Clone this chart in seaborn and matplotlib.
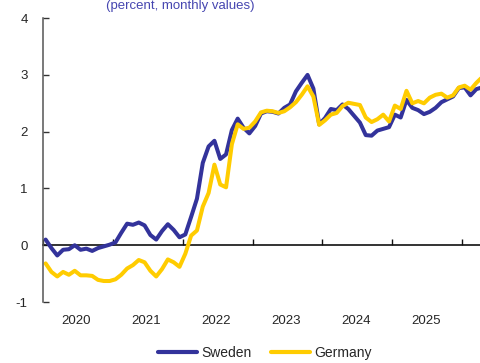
import numpy as np
import pandas as pd
import matplotlib
matplotlib.use("Agg")
import matplotlib.pyplot as plt
import seaborn as sns

# Monthly inflation expectations, Jan 2020 onwards (month index 0 = Jan 2020)
sweden = [0.10, -0.05, -0.18, -0.08, -0.07, 0.00, -0.08, -0.06, -0.10, -0.05, -0.02, 0.01,
          0.05, 0.22, 0.38, 0.36, 0.40, 0.35, 0.18, 0.10, 0.25, 0.37, 0.27, 0.14,
          0.19, 0.50, 0.82, 1.45, 1.74, 1.84, 1.52, 1.60, 2.03, 2.23, 2.07, 1.97,
          2.10, 2.32, 2.36, 2.35, 2.32, 2.42, 2.48, 2.71, 2.86, 3.00, 2.76, 2.13,
          2.24, 2.40, 2.38, 2.48, 2.40, 2.28, 2.16, 1.94, 1.93, 2.02, 2.05, 2.08,
          2.30, 2.25, 2.56, 2.42, 2.38, 2.31, 2.35, 2.42, 2.52, 2.57, 2.62, 2.77,
          2.78, 2.64, 2.75, 2.78]
germany = [-0.32, -0.47, -0.55, -0.47, -0.52, -0.45, -0.53, -0.53, -0.54, -0.61, -0.63, -0.63,
           -0.60, -0.52, -0.41, -0.35, -0.26, -0.30, -0.45, -0.55, -0.42, -0.25, -0.30, -0.38,
           -0.15, 0.17, 0.26, 0.68, 0.92, 1.42, 1.07, 1.02, 1.78, 2.13, 2.05, 2.07,
           2.18, 2.34, 2.37, 2.36, 2.33, 2.36, 2.43, 2.52, 2.65, 2.80, 2.62, 2.12,
           2.20, 2.30, 2.33, 2.45, 2.51, 2.49, 2.47, 2.25, 2.17, 2.22, 2.30, 2.18,
           2.46, 2.40, 2.72, 2.50, 2.54, 2.50, 2.60, 2.65, 2.67, 2.60, 2.64, 2.78,
           2.81, 2.74, 2.86, 2.96]
years = ["2020", "2021", "2022", "2023", "2024", "2025"]
y_ticks = [-1, 0, 1, 2, 3, 4]
series_names = ["Sweden", "Germany"]
colors = ["#33339b", "#ffcc00"]

months = np.arange(len(sweden))
df = pd.DataFrame({
    "month": np.concatenate([months, months]),
    "value": sweden + germany,
    "country": ["Sweden"] * len(sweden) + ["Germany"] * len(germany),
})

sns.set_style("white")
plt.rcParams["font.family"] = ["Liberation Sans", "DejaVu Sans"]

fig = plt.figure(figsize=(4.81, 3.63), dpi=100)
ax = fig.add_axes([43 / 481, 0.168, 1 - 43 / 481, 0.782])

sns.lineplot(data=df, x="month", y="value", hue="country", hue_order=series_names,
             palette=colors, linewidth=2.9, ax=ax, legend=False)

ax.set_xlim(-0.45, 74.8)
ax.set_ylim(-1, 4)
ax.set_xlabel("")
ax.set_ylabel("")

# Left axis: ticks pointing inward
ax.set_yticks(y_ticks)
ax.set_yticklabels([str(v) for v in y_ticks])
ax.tick_params(axis="y", direction="in", length=4, width=1, color="#333333",
               labelsize=9.5, pad=11, left=True)
for s in ["top", "right"]:
    ax.spines[s].set_visible(False)
ax.spines["left"].set_color("#555555")
ax.spines["left"].set_linewidth(1.1)

# Zero line as the x axis with year-boundary ticks pointing up
ax.spines["bottom"].set_position(("data", 0))
ax.spines["bottom"].set_color("#111111")
ax.spines["bottom"].set_linewidth(1.2)
ax.spines["bottom"].set_zorder(1)
ax.set_xticks([12 * k - 0.45 for k in range(len(years) + 1)])
ax.set_xticklabels([])
ax.tick_params(axis="x", direction="in", length=4, width=1, color="#111111", bottom=True)

# Year labels along the bottom of the plot area
sec = ax.secondary_xaxis(location=0)
sec.set_xticks([12 * k + 5.3 for k in range(len(years))])
sec.set_xticklabels(years)
sec.tick_params(length=0, labelsize=9.5, pad=9)
sec.spines["bottom"].set_visible(False)

fig.text(180 / 481, 1.0, "(percent, monthly values)", color="#4646b0",
         fontsize=9.5, ha="center", va="top")

handles = [plt.Line2D([], [], color=c, linewidth=3) for c in colors]
fig.legend(handles, series_names, loc="center", bbox_to_anchor=(265 / 481, 0.028),
           ncol=2, frameon=False, fontsize=10, handlelength=2.8, handletextpad=0.3,
           columnspacing=1.4)

fig.savefig("out.png", dpi=100)
